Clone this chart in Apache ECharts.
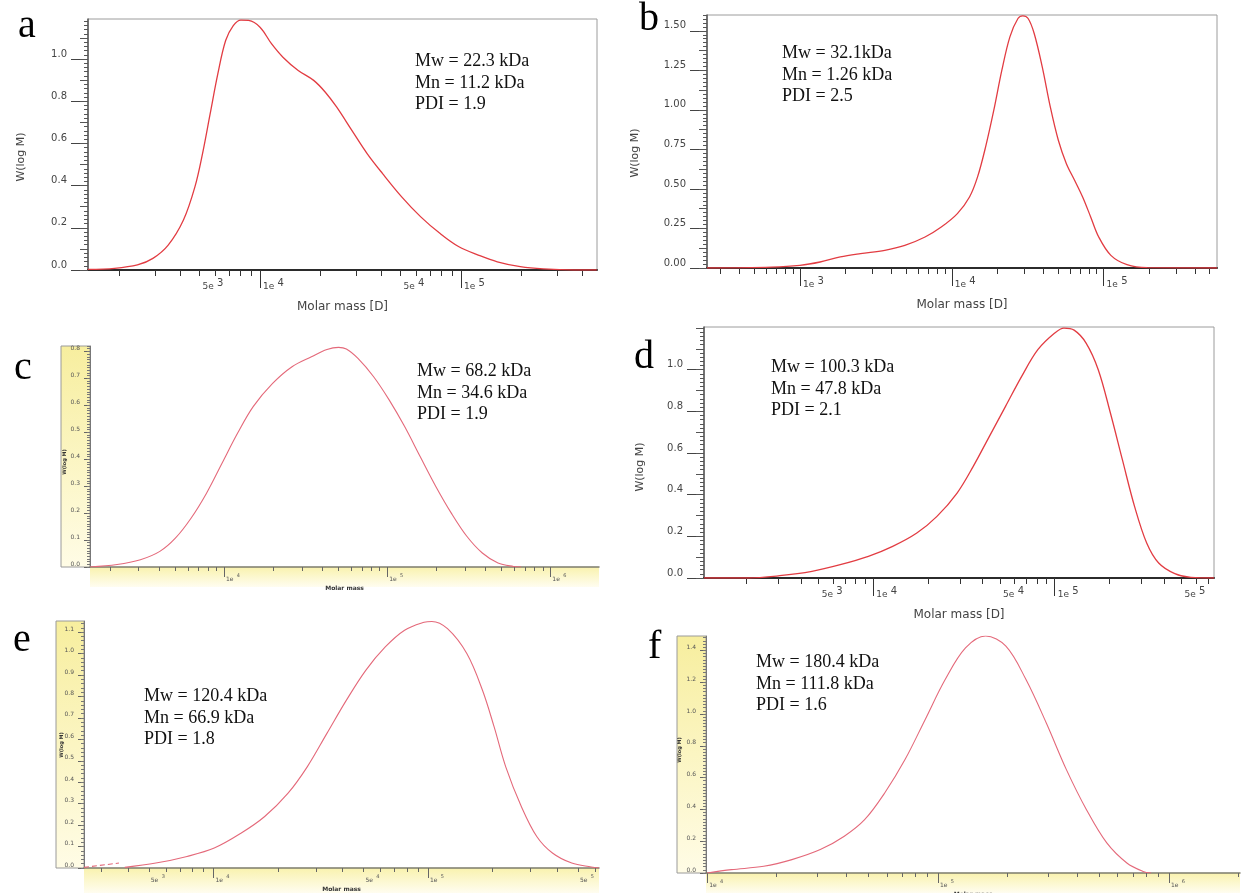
<!DOCTYPE html>
<html><head><meta charset="utf-8">
<script src="https://cdn.jsdelivr.net/npm/echarts@6/dist/echarts.min.js"></script>
<style>html,body{margin:0;padding:0;background:#fff}#chart{width:1243px;height:893px}</style>
</head><body><div id="chart"></div>
<script>
// ---------- DATA (x = log10 of molar mass, y = W(log M)) ----------
const a_log10M = [3.143,3.276,3.39,3.467,3.543,3.619,3.676,3.714,3.752,3.79,3.829,3.867,3.905,3.943,4.0,4.057,4.114,4.19,4.267,4.324,4.381,4.457,4.533,4.61,4.705,4.8,4.895,4.99,5.086,5.181,5.295,5.41,5.562,5.676];
const a_w       = [0.003,0.008,0.024,0.055,0.118,0.237,0.394,0.552,0.741,0.93,1.088,1.159,1.185,1.183,1.151,1.073,1.009,0.946,0.899,0.844,0.773,0.662,0.552,0.457,0.347,0.252,0.174,0.11,0.071,0.039,0.016,0.005,0,0];
const b_log10M = [2.388,2.814,3.0,3.133,3.266,3.399,3.559,3.691,3.824,3.931,4.037,4.117,4.17,4.223,4.277,4.33,4.383,4.436,4.468,4.503,4.543,4.596,4.649,4.702,4.755,4.809,4.862,4.915,4.968,5.048,5.154,5.287,5.747];
const b_w       = [0,0.006,0.017,0.038,0.07,0.091,0.112,0.143,0.196,0.259,0.344,0.449,0.576,0.766,0.998,1.251,1.462,1.578,1.595,1.578,1.483,1.272,1.019,0.808,0.66,0.555,0.449,0.323,0.196,0.08,0.021,0.002,0];
const c_log10M = [3.179,3.345,3.488,3.607,3.702,3.798,3.893,3.988,4.083,4.179,4.298,4.417,4.536,4.631,4.702,4.75,4.821,4.917,5.012,5.107,5.202,5.298,5.393,5.488,5.583,5.679,5.774,5.821];
const c_w       = [0,0.009,0.027,0.058,0.107,0.181,0.274,0.385,0.496,0.595,0.681,0.743,0.78,0.807,0.815,0.809,0.774,0.706,0.62,0.521,0.41,0.299,0.2,0.114,0.052,0.015,0.002,0];
const d_log10M = [3.067,3.307,3.484,3.662,3.818,3.973,4.107,4.24,4.351,4.462,4.551,4.64,4.729,4.818,4.907,5.0,5.051,5.107,5.173,5.24,5.307,5.373,5.44,5.507,5.573,5.662,5.751,5.878];
const d_w       = [0,0,0.011,0.032,0.064,0.104,0.152,0.216,0.296,0.408,0.536,0.68,0.824,0.968,1.096,1.176,1.2,1.19,1.128,1.0,0.792,0.568,0.344,0.168,0.072,0.021,0.003,0];
const e_head_log10M = [3.397,3.56];
const e_head_w      = [0.003,0.023];
const e_log10M = [3.587,3.732,3.877,4.004,4.13,4.239,4.348,4.438,4.529,4.62,4.71,4.801,4.891,4.982,5.018,5.091,5.181,5.254,5.308,5.362,5.435,5.507,5.58,5.67,5.761,5.797];
const e_w       = [0.003,0.023,0.054,0.093,0.163,0.24,0.349,0.473,0.628,0.783,0.922,1.031,1.109,1.146,1.15,1.116,1.0,0.829,0.659,0.473,0.287,0.147,0.07,0.023,0.005,0];
const f_log10M = [4.0,4.105,4.245,4.367,4.49,4.594,4.682,4.769,4.857,4.944,5.031,5.119,5.206,5.294,5.381,5.469,5.556,5.643,5.731,5.818,5.888,5.923];
const f_w       = [0,0.021,0.042,0.084,0.147,0.231,0.335,0.503,0.713,0.964,1.216,1.415,1.49,1.426,1.216,0.943,0.65,0.398,0.189,0.063,0.01,0];

// tick labels
const a_xLabels = [5000,10000,50000,100000];
const b_xLabels = [1000,10000,100000];
const c_xLabels = [10000,100000,1000000];
const d_xLabels = [5000,10000,50000,100000,500000];
const e_xLabels = [5000,10000,50000,100000,500000];
const f_xLabels = [10000,100000,1000000];
const a_yTicks = [0,0.2,0.4,0.6,0.8,1.0];
const b_yTicks = [0,0.25,0.5,0.75,1.0,1.25,1.5];
const c_yTicks = [0,0.1,0.2,0.3,0.4,0.5,0.6,0.7,0.8];
const d_yTicks = [0,0.2,0.4,0.6,0.8,1.0];
const e_yTicks = [0,0.1,0.2,0.3,0.4,0.5,0.6,0.7,0.8,0.9,1.0,1.1];
const f_yTicks = [0,0.2,0.4,0.6,0.8,1.0,1.2,1.4];

const annotations = {
  a: ['Mw = 22.3 kDa','Mn = 11.2 kDa','PDI = 1.9'],
  b: ['Mw = 32.1kDa','Mn = 1.26 kDa','PDI = 2.5'],
  c: ['Mw = 68.2 kDa','Mn = 34.6 kDa','PDI = 1.9'],
  d: ['Mw = 100.3 kDa','Mn = 47.8 kDa','PDI = 2.1'],
  e: ['Mw = 120.4 kDa','Mn = 66.9 kDa','PDI = 1.8'],
  f: ['Mw = 180.4 kDa','Mn = 111.8 kDa','PDI = 1.6']
};

// ---------- LAYOUT ----------
const panels = [
  {key:'a', kind:'frame', grid:{left:88,top:19,width:509,height:251}, xr:[3.144,5.677], ymax:1.19, yMajor:a_yTicks, yMinor:0.02, yMid:0.1, digits:1, xLab:a_xLabels, x:a_log10M, y:a_w,
   letter:[18,26], note:[415,51], yName:[21,157]},
  {key:'b', kind:'frame', grid:{left:707,top:15,width:510,height:253}, xr:[2.388,5.747], ymax:1.60, yMajor:b_yTicks, yMinor:0.025, yMid:0.125, digits:2, xLab:b_xLabels, x:b_log10M, y:b_w,
   letter:[639,19], note:[782,43], yName:[635,153]},
  {key:'c', kind:'yellow', grid:{left:90,top:346,width:509,height:221}, xr:[3.179,6.298], ymax:0.82, yMajor:c_yTicks, yMinor:0.01, digits:1, xLab:c_xLabels, x:c_log10M, y:c_w,
   letter:[14,368], note:[417,361], yName:[65,462], ybox:[61,346,29,221], xband:[90,567,509,20], nameGap:12},
  {key:'d', kind:'frame', grid:{left:704,top:327,width:510,height:251}, xr:[3.067,5.878], ymax:1.205, yMajor:d_yTicks, yMinor:0.02, yMid:0.1, digits:1, xLab:d_xLabels, x:d_log10M, y:d_w,
   letter:[634,357], note:[771,357], yName:[640,467]},
  {key:'e', kind:'yellow', grid:{left:84,top:621,width:515,height:247}, xr:[3.397,5.797], ymax:1.152, yMajor:e_yTicks, yMinor:0.02, digits:1, xLab:e_xLabels, x:e_log10M, y:e_w,
   letter:[13,640], note:[144,686], yName:[62,745], ybox:[56,621,28,247], xband:[84,868,515,25], nameGap:13},
  {key:'f', kind:'yellow', grid:{left:706,top:636,width:534,height:237}, xr:[3.995,6.308], ymax:1.49, yMajor:f_yTicks, yMinor:0.02, digits:1, xLab:f_xLabels, x:f_log10M, y:f_w,
   letter:[648,647], note:[756,652], yName:[680,750], ybox:[677,636,29,237], xband:[706,873,534,20], nameGap:10}
];

function decadeTicks(min,max){const o=[];for(let e=Math.floor(min);e<=Math.ceil(max);e++){if(e>=min-1e-9&&e<=max+1e-9)o.push(e);}return o;}
function minorLogTicks(min,max){const o=[];for(let e=Math.floor(min)-1;e<=Math.ceil(max);e++){for(let k=2;k<=9;k++){const v=e+Math.log10(k);if(v>=min&&v<=max)o.push(v);}}return o;}
function linTicks(max,step){const o=[];const n=Math.floor(max/step+1e-6);for(let i=0;i<=n;i++)o.push(+(i*step).toFixed(6));return o;}
function sciLabel(v){const e=Math.floor(v+1e-6);const m=Math.round(Math.pow(10,v-e));return '{m|'+m+'e} {e|'+e+'}';}

const grids=[],xAxes=[],yAxes=[],series=[],graphics=[];
const SANS='DejaVu Sans', SERIF='Liberation Serif';

panels.forEach((p,i)=>{
  const frame = p.kind==='frame';
  grids.push(Object.assign({show:frame, borderColor:'#9c9c9c', borderWidth:1, backgroundColor:frame?'#fff':'transparent', containLabel:false, outerBoundsMode:'none'}, p.grid));
  const xi = xAxes.length, yi = yAxes.length;
  const rich = frame ? {m:{fontSize:9,fontFamily:SANS,color:'#444',lineHeight:18}, e:{fontSize:10,fontFamily:SANS,color:'#444',lineHeight:8,verticalAlign:'top'}}
                     : {m:{fontSize:6,fontFamily:SANS,color:'#555',lineHeight:10}, e:{fontSize:5,fontFamily:SANS,color:'#555',lineHeight:5,verticalAlign:'top'}};
  xAxes.push({gridIndex:i,type:'value',position:'bottom',offset:0,min:p.xr[0],max:p.xr[1],
    axisLine:{show:true,onZero:false,lineStyle:{color:frame?'#2b2b2b':'#7c7c6c',width:frame?2:1.5}},
    axisTick:{show:true,length:frame?6:4,customValues:minorLogTicks(p.xr[0],p.xr[1]),lineStyle:{color:frame?'#333':'#666'}},
    axisLabel:{show:true,customValues:p.xLab.map(v=>Math.log10(v)),formatter:sciLabel,align:'left',margin:frame?8:6,padding:[0,0,0,frame?3:2],rich:rich},
    splitLine:{show:false},
    name:frame?'Molar mass [D]':'Molar mass',nameLocation:'middle',nameGap:frame?31:p.nameGap,
    nameTextStyle:frame?{fontFamily:SANS,fontSize:12,color:'#444'}:{fontFamily:SANS,fontSize:6,fontWeight:'bold',color:'#333'}});
  xAxes.push({gridIndex:i,type:'value',position:'bottom',offset:0,min:p.xr[0],max:p.xr[1],
    axisLine:{show:false,onZero:false},axisTick:{show:true,length:frame?18:10,customValues:decadeTicks(p.xr[0],p.xr[1]),lineStyle:{color:frame?'#333':'#666'}},
    axisLabel:{show:false},splitLine:{show:false}});
  yAxes.push({gridIndex:i,type:'value',position:'left',offset:0,min:0,max:p.ymax,
    axisLine:{show:true,onZero:false,lineStyle:{color:frame?'#555':'#777',width:frame?1.5:1}},
    axisTick:{show:true,length:frame?17:6,customValues:p.yMajor,lineStyle:{color:frame?'#444':'#666'}},
    axisLabel:{show:true,customValues:p.yMajor,formatter:v=>v.toFixed(p.digits),margin:frame?21:10,verticalAlign:'bottom',
      fontFamily:SANS,fontSize:frame?10:6,color:frame?'#444':'#555'},
    splitLine:{show:false}});
  yAxes.push({gridIndex:i,type:'value',position:'left',offset:0,min:0,max:p.ymax,axisLine:{show:false,onZero:false},
    axisTick:{show:true,length:frame?4:3,customValues:linTicks(p.ymax,p.yMinor),lineStyle:{color:frame?'#555':'#777'}},
    axisLabel:{show:false},splitLine:{show:false}});
  yAxes.push({gridIndex:i,type:'value',position:'left',offset:0,min:0,max:p.ymax,axisLine:{show:false,onZero:false},
    axisTick:{show:frame,length:8,customValues:frame?linTicks(p.ymax,p.yMid):[0],lineStyle:{color:'#555'}},
    axisLabel:{show:false},splitLine:{show:false}});
  series.push({type:'line',name:p.key,xAxisIndex:xi,yAxisIndex:yi,showSymbol:false,smooth:0.35,
    lineStyle:{color:frame?'#e23c42':'#e4697a',width:frame?1.3:1.1},
    data:p.x.map((v,k)=>[v,p.y[k]])});
  if(p.key==='e'){
    series.push({type:'line',name:'e-start',xAxisIndex:xi,yAxisIndex:yi,showSymbol:false,
      lineStyle:{color:'#e4697a',width:1.1,type:[5,3]},data:e_head_log10M.map((v,k)=>[v,e_head_w[k]])});
  }
  // decorations
  if(!frame){
    graphics.push({type:'rect',z:-1,shape:{x:p.ybox[0],y:p.ybox[1],width:p.ybox[2],height:p.ybox[3]},
      style:{fill:new echarts.graphic.LinearGradient(0,0,0,1,[{offset:0,color:'#f7ee9e'},{offset:1,color:'#fffce6'}]),stroke:'#9a9a9a',lineWidth:1}});
    graphics.push({type:'rect',z:-1,shape:{x:p.xband[0],y:p.xband[1],width:p.xband[2],height:p.xband[3]},
      style:{fill:new echarts.graphic.LinearGradient(0,0,0,1,[{offset:0,color:'#f9f2ae'},{offset:1,color:'#fffdf0'}]),stroke:null}});
    graphics.push({type:'text',z:10,x:p.yName[0],y:p.yName[1],rotation:Math.PI/2,
      style:{text:'W(log M)',fontFamily:SANS,fontSize:5,fontWeight:'bold',fill:'#333',align:'center',verticalAlign:'middle'}});
  } else {
    graphics.push({type:'text',z:10,x:p.yName[0],y:p.yName[1],rotation:Math.PI/2,
      style:{text:'W(log M)',fontFamily:SANS,fontSize:11,fill:'#444',align:'center',verticalAlign:'middle'}});
  }
  graphics.push({type:'text',z:10,x:p.letter[0],y:p.letter[1],
    style:{text:p.key,fontFamily:SERIF,fontSize:40,fill:'#000',align:'left',verticalAlign:'middle'}});
  graphics.push({type:'text',z:10,x:p.note[0],y:p.note[1],
    style:{text:annotations[p.key].join('\n'),fontFamily:SERIF,fontSize:18,lineHeight:21.5,fill:'#111',align:'left',verticalAlign:'top'}});
});

const chart = echarts.init(document.getElementById('chart'));
chart.setOption({
  animation:false,
  backgroundColor:'#fff',
  grid:grids, xAxis:xAxes, yAxis:yAxes, series:series,
  graphic:{elements:graphics}
});
</script></body></html>
